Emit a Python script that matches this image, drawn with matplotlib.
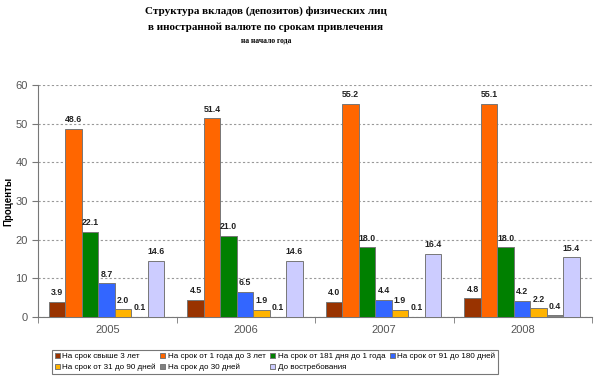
import matplotlib
matplotlib.use("Agg")
import matplotlib.pyplot as plt
import numpy as np

years = ["2005", "2006", "2007", "2008"]
series_names = [
    "На срок свыше 3 лет",
    "На срок от 1 года до 3 лет",
    "На срок от 181 дня до 1 года",
    "На срок от 91 до 180 дней",
    "На срок от 31 до 90 дней",
    "На срок до 30 дней",
    "До востребования",
]
values = [
    [3.9, 4.5, 4.0, 4.8],
    [48.6, 51.4, 55.2, 55.1],
    [22.1, 21.0, 18.0, 18.0],
    [8.7, 6.5, 4.4, 4.2],
    [2.0, 1.9, 1.9, 2.2],
    [0.1, 0.1, 0.1, 0.4],
    [14.6, 14.6, 16.4, 15.4],
]
colors = ["#993300", "#FF6600", "#008000", "#3366FF", "#FFB300", "#808080", "#CCCCFF"]

fig = plt.figure(figsize=(5.99, 3.8), dpi=100)
ax = fig.add_axes([38/599, 1-317/380, (592-38)/599, (317-85)/380])

x = np.arange(len(years))
bw = 0.119
n = len(series_names)
handles = []
for i, (name, vals, c) in enumerate(zip(series_names, values, colors)):
    pos = x - bw*n/2 + bw*(i+0.5) - 0.005
    bars = ax.bar(pos, vals, width=bw, color=c, edgecolor="#777777", linewidth=0.7, label=name, zorder=3)
    handles.append(bars)
    for p, v in zip(pos, vals):
        ax.text(p, v + 1.2, f"{v:.1f}", ha="center", va="bottom", fontsize=6.3,
                fontweight="bold", color="#222222", family="Liberation Sans", zorder=4)

ax.set_xlim(-0.5, 3.5)
ax.set_ylim(0, 60)
ax.set_yticks(range(0, 61, 10))
ax.yaxis.grid(True, linestyle=(0, (2, 2)), color="#999999", linewidth=0.8, zorder=0)
ax.set_xticks(x)
ax.set_xticklabels(years)
ax.set_xticks(np.arange(-0.5, 4.0, 1.0), minor=True)
ax.tick_params(axis="x", which="major", length=0, pad=6)
ax.tick_params(axis="x", which="minor", length=4, color="#777777")
ax.tick_params(axis="y", length=4, color="#777777")
for lab in ax.get_xticklabels() + ax.get_yticklabels():
    lab.set_fontfamily("Liberation Sans")
    lab.set_fontsize(8)
    lab.set_color("#555555")
for s in ["top", "right"]:
    ax.spines[s].set_visible(False)
for s in ["left", "bottom"]:
    ax.spines[s].set_color("#777777")
ax.set_ylabel("Проценты", fontsize=7, fontweight="bold", family="Liberation Sans")
ax.yaxis.set_label_coords(-25/554, 0.5)

cx = 266/599
fig.text(cx, 1-11/380, "Структура вкладов (депозитов) физических лиц", ha="center", va="center",
         fontsize=8, fontweight="bold", family="Liberation Serif")
fig.text(cx, 1-27/380, "в иностранной валюте по срокам привлечения", ha="center", va="center",
         fontsize=8, fontweight="bold", family="Liberation Serif")
fig.text(cx, 1-40/380, "на начало года", ha="center", va="center",
         fontsize=5.5, fontweight="bold", family="Liberation Serif")

order = [0, 4, 1, 5, 2, 6, 3]
leg = fig.legend([handles[k] for k in order], [series_names[k] for k in order],
                 loc="center", bbox_to_anchor=(275/599, 1-362/380), ncol=4,
                 prop={"family": "Liberation Sans", "size": 5.8}, frameon=True, fancybox=False,
                 edgecolor="#555555", handlelength=0.6, handleheight=0.6, handletextpad=0.3,
                 columnspacing=0.6, borderpad=0.4, labelspacing=0.4)
leg.get_frame().set_linewidth(0.8)

fig.savefig("out.png", dpi=100)
